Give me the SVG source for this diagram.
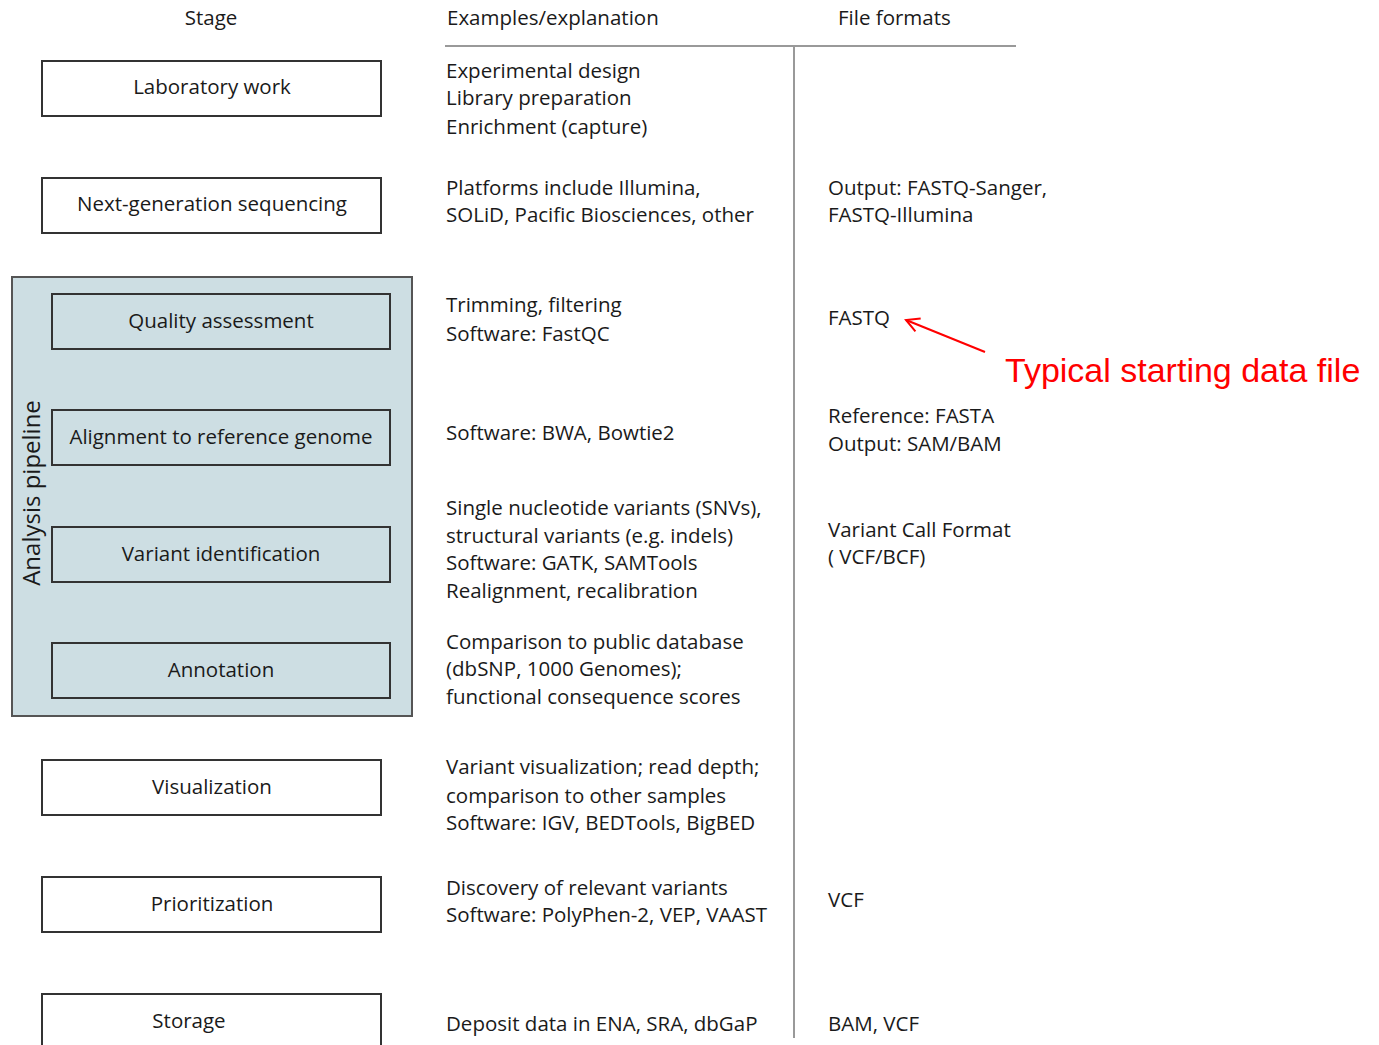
<svg xmlns="http://www.w3.org/2000/svg" width="1379" height="1045" viewBox="0 0 1379 1045">
<style>
text{font-family:"Open Sans","Noto Sans",sans-serif;font-size:20.5px;fill:#1a1a1a}
.c{text-anchor:middle}
.box{fill:#fff;stroke:#333;stroke-width:2}
.ibox{fill:#cddee3;stroke:#333;stroke-width:2}
.rule{stroke:#999;stroke-width:2;fill:none}
.red{fill:#ff0000;font-family:"Liberation Sans",sans-serif;font-size:34px}
</style>
<defs>
<marker id="arr" markerWidth="16" markerHeight="16" refX="14" refY="8" orient="auto" markerUnits="userSpaceOnUse">
<path d="M1,1 L14,8 L1,15" fill="none" stroke="#ff0000" stroke-width="2"/>
</marker>
</defs>
<rect width="1379" height="1045" fill="#fff"/>
<g id="headers">
<text class="c" x="211" y="25">Stage</text>
<text x="447" y="25">Examples/explanation</text>
<text x="838" y="25">File formats</text>
</g>
<g id="connectors">
<line class="rule" x1="445" y1="46" x2="1016" y2="46"/>
<line class="rule" x1="794" y1="46" x2="794" y2="1038"/>
<line x1="985" y1="352" x2="906" y2="320" stroke="#ff0000" stroke-width="2" marker-end="url(#arr)"/>
</g>
<g id="pipeline">
<rect x="12" y="277" width="400" height="439" fill="#cddee3" stroke="#555" stroke-width="2"/>
<text class="c" transform="translate(40,493) rotate(-90)" style="font-size:24px">Analysis pipeline</text>
</g>
<g id="lab"><rect class="box" x="42" y="61" width="339" height="55"/><text class="c" x="212" y="94">Laboratory work</text></g>
<g id="ngs"><rect class="box" x="42" y="178" width="339" height="55"/><text class="c" x="212" y="211">Next-generation sequencing</text></g>
<g id="qa"><rect class="ibox" x="52" y="294" width="338" height="55"/><text class="c" x="221" y="328">Quality assessment</text></g>
<g id="align"><rect class="ibox" x="52" y="410" width="338" height="55"/><text class="c" x="221" y="444">Alignment to reference genome</text></g>
<g id="variant"><rect class="ibox" x="52" y="527" width="338" height="55"/><text class="c" x="221" y="561">Variant identification</text></g>
<g id="annot"><rect class="ibox" x="52" y="643" width="338" height="55"/><text class="c" x="221" y="677">Annotation</text></g>
<g id="vis"><rect class="box" x="42" y="760" width="339" height="55"/><text class="c" x="212" y="794">Visualization</text></g>
<g id="prio"><rect class="box" x="42" y="877" width="339" height="55"/><text class="c" x="212" y="911">Prioritization</text></g>
<g id="storage"><rect class="box" x="42" y="994" width="339" height="60"/><text class="c" x="189" y="1028">Storage</text></g>
<g id="examples">
<text x="446" y="78">Experimental design</text>
<text x="446" y="105">Library preparation</text>
<text x="446" y="134">Enrichment (capture)</text>
<text x="446" y="195">Platforms include Illumina,</text>
<text x="446" y="222">SOLiD, Pacific Biosciences, other</text>
<text x="446" y="312">Trimming, filtering</text>
<text x="446" y="341">Software: FastQC</text>
<text x="446" y="440">Software: BWA, Bowtie2</text>
<text x="446" y="515">Single nucleotide variants (SNVs),</text>
<text x="446" y="543">structural variants (e.g. indels)</text>
<text x="446" y="570">Software: GATK, SAMTools</text>
<text x="446" y="598">Realignment, recalibration</text>
<text x="446" y="649">Comparison to public database</text>
<text x="446" y="676">(dbSNP, 1000 Genomes);</text>
<text x="446" y="704">functional consequence scores</text>
<text x="446" y="774">Variant visualization; read depth;</text>
<text x="446" y="803">comparison to other samples</text>
<text x="446" y="830">Software: IGV, BEDTools, BigBED</text>
<text x="446" y="895">Discovery of relevant variants</text>
<text x="446" y="922">Software: PolyPhen-2, VEP, VAAST</text>
<text x="446" y="1031">Deposit data in ENA, SRA, dbGaP</text>
</g>
<g id="formats">
<text x="828" y="195">Output: FASTQ-Sanger,</text>
<text x="828" y="222">FASTQ-Illumina</text>
<text x="828" y="325">FASTQ</text>
<text x="828" y="423">Reference: FASTA</text>
<text x="828" y="451">Output: SAM/BAM</text>
<text x="828" y="537">Variant Call Format</text>
<text x="828" y="564">( VCF/BCF)</text>
<text x="828" y="907">VCF</text>
<text x="828" y="1031">BAM, VCF</text>
</g>
<g id="note"><text class="red" x="1005" y="382">Typical starting data file</text></g>
</svg>
